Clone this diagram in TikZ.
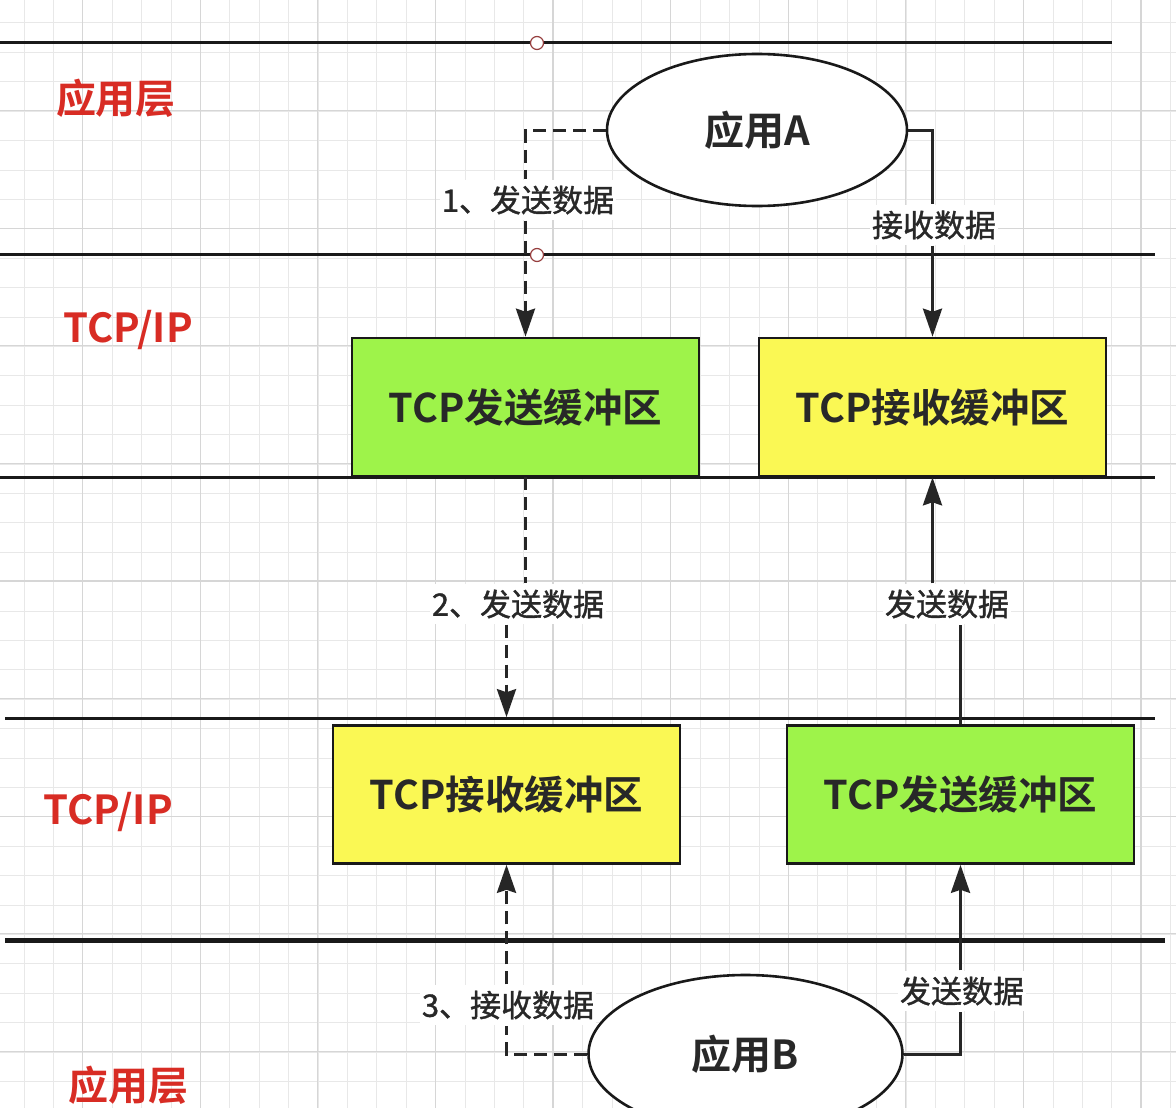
\documentclass[tikz,border=0pt]{standalone}
\usepackage{fontspec}
\setmainfont{Noto Sans CJK SC}[BoldFont={Noto Sans CJK SC Bold}]
\newfontfamily\lblfont{Noto Sans CJK SC}[FakeBold=1.2]
\usepackage{tikz}
\usetikzlibrary{arrows.meta,shapes.geometric}

\definecolor{layerred}{RGB}{216,44,36}
\definecolor{sendgreen}{RGB}{158,243,74}
\definecolor{recvyellow}{RGB}{250,248,84}
\definecolor{txtgray}{RGB}{40,40,40}
\definecolor{pinred}{RGB}{150,62,62}

\begin{document}
\begin{tikzpicture}[x=1pt,y=-1pt,
    buf/.style={draw=black!90,line width=2.6pt,minimum width=347pt,minimum height=138pt,
      font=\fontsize{39.5}{44}\selectfont\bfseries,text=txtgray},
    app/.style={ellipse,draw=black!90,fill=white,line width=2.6pt,
      font=\fontsize{40}{44}\selectfont\bfseries,text=txtgray},
    layer/.style={text=layerred,font=\fontsize{40}{44}\selectfont\bfseries},
    lbl/.style={fill=white,inner xsep=2pt,inner ysep=6pt,text=txtgray,
      font=\fontsize{31}{34}\lblfont},
    link/.style={draw=black!85,line width=3pt},
    linkdash/.style={link,dash pattern=on 13pt off 7pt},
    flow/.style={link,-{Stealth[length=28pt,width=19pt,inset=3pt]}},
    flowdash/.style={flow,dash pattern=on 13pt off 7pt},
    sep/.style={draw=black!90,line width=3pt},
    pin/.style={circle,draw=pinred,fill=white,line width=1.2pt,inner sep=0pt,minimum size=13pt}]
  \clip (0,0) rectangle (1176,1108);
  \fill[white] (0,0) rectangle (1176,1108);

  % grid
  \foreach \i in {0,...,39} {
    \draw[black!9,line width=1pt] (24+\i*29.4,0) -- (24+\i*29.4,1108);
    \draw[black!9,line width=1pt] (0,23+\i*29.4) -- (1176,23+\i*29.4);
  }
  \foreach \i in {1,...,10} {
    \draw[black!16,line width=1.2pt] (-35+\i*117.6,0) -- (-35+\i*117.6,1108);
    \draw[black!16,line width=1.2pt] (0,-7+\i*117.6) -- (1176,-7+\i*117.6);
  }

  % layer lines
  \draw[sep] (0,43) -- (1112,43);
  \draw[sep] (0,254) -- (1155,254);
  \draw[sep] (0,477) -- (1155,477);
  \draw[sep] (5,718) -- (1155,718);
  \draw[sep,line width=5pt] (5,940) -- (1165,940);

  % layer names
  \node[layer] (topapp) at (116,98) {应用层};
  \node[layer] (toptcp) at (128,330) {TCP/IP};
  \node[layer] (bottcp) at (108,812) {TCP/IP};
  \node[layer] (botapp) at (128,1085) {应用层};

  % buffers
  \node[buf,fill=sendgreen] (sendA) at (525.5,407) {TCP发送缓冲区};
  \node[buf,fill=recvyellow] (recvA) at (932.5,407) {TCP接收缓冲区};
  \node[buf,fill=recvyellow] (recvB) at (506.5,794.5) {TCP接收缓冲区};
  \node[buf,fill=sendgreen] (sendB) at (960.5,794.5) {TCP发送缓冲区};

  % applications
  \node[app,minimum width=300pt,minimum height=152pt] (appA) at (757,130) {应用A};
  \node[app,minimum width=314pt,minimum height=158pt] (appB) at (745.5,1054) {应用B};

  % labels
  \node[lbl] (l1) at (528,200) {1、发送数据};
  \node[lbl] (l2) at (934,225) {接收数据};
  \node[lbl] (l3) at (518,604) {2、发送数据};
  \node[lbl] (l4) at (947,604) {发送数据};
  \node[lbl] (l5) at (508,1005) {3、接收数据};
  \node[lbl] (l6) at (962,991) {发送数据};

  % connectors
  \draw[linkdash] (appA.west) -| (sendA.north |- l1.north);
  \draw[flowdash] (sendA.north |- l1.south) -- (sendA.north);
  \draw[link] (appA.east) -| (recvA.north |- l2.north);
  \draw[flow] (recvA.north |- l2.south) -- (recvA.north);
  \draw[linkdash] (sendA.south) -- (sendA.south |- l3.north);
  \draw[flowdash,shorten >=7pt] (recvB.north |- l3.south) -- (recvB.north);
  \draw[link] (sendB.north) -- (sendB.north |- l4.south);
  \draw[flow] (recvA.south |- l4.north) -- (recvA.south);
  \draw[linkdash] (appB.west) -| (recvB.south |- l5.south);
  \draw[flowdash] (recvB.south |- l5.north) -- (recvB.south);
  \draw[link] (appB.east) -| (sendB.south |- l6.south);
  \draw[flow] (sendB.south |- l6.north) -- (sendB.south);

  \node[pin] (pinA) at (537,43) {};
  \node[pin] (pinB) at (537,255) {};
\end{tikzpicture}
\end{document}
